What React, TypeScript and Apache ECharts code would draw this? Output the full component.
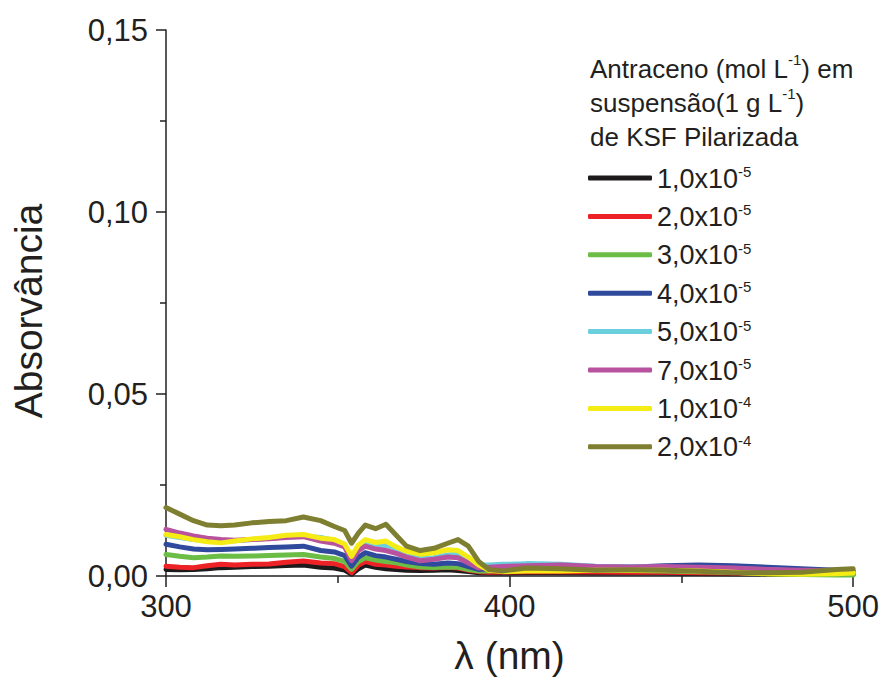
import React, { useEffect, useRef } from "react";
import * as echarts from "echarts";

// Wavelength grid (nm)
const wavelengths = [
  300, 304, 308, 312, 316, 320, 325, 330, 335, 340, 345, 349, 352, 354, 356, 358, 361, 364, 367, 370,
  374, 378, 382, 385, 388, 391, 394, 398, 405, 415, 425, 435, 445, 455, 465, 475, 485, 495, 500,
];

// Absorbance per anthracene concentration
const abs1e5 = [
  0.0018, 0.0017, 0.0018, 0.002, 0.0023, 0.0024, 0.0026, 0.0027, 0.0029, 0.003, 0.0024, 0.0022, 0.0016, 0.0005, 0.002, 0.003, 0.0024, 0.002, 0.0018, 0.0016,
  0.0015, 0.0016, 0.0017, 0.0015, 0.0012, 0.0009, 0.0008, 0.0008, 0.0009, 0.0009, 0.0008, 0.0008, 0.0008, 0.0007, 0.0006, 0.0006, 0.0005, 0.0005, 0.0005,
];
const abs2e5 = [
  0.0027, 0.0024, 0.0023, 0.0028, 0.0032, 0.003, 0.0032, 0.0033, 0.0038, 0.0041, 0.0036, 0.0034, 0.0026, 0.0009, 0.003, 0.004, 0.0032, 0.003, 0.0027, 0.0025,
  0.0023, 0.0022, 0.0024, 0.0022, 0.0016, 0.0012, 0.001, 0.0011, 0.0012, 0.0012, 0.0011, 0.001, 0.001, 0.0009, 0.0008, 0.0007, 0.0006, 0.0006, 0.0006,
];
const abs3e5 = [
  0.0059, 0.0054, 0.005, 0.0052, 0.0055, 0.0054, 0.0055, 0.0056, 0.0058, 0.0059, 0.0052, 0.0048, 0.004, 0.0018, 0.004, 0.005, 0.0044, 0.004, 0.0036, 0.003,
  0.0025, 0.0023, 0.0025, 0.0024, 0.0018, 0.0014, 0.0014, 0.0016, 0.0018, 0.0018, 0.0016, 0.0015, 0.0014, 0.0012, 0.001, 0.0006, 0.0004, 0.0003, 0.0003,
];
const abs4e5 = [
  0.0087, 0.008, 0.0074, 0.0072, 0.0073, 0.0074, 0.0076, 0.0078, 0.008, 0.0082, 0.007, 0.0066, 0.0056, 0.0027, 0.0052, 0.0064, 0.0056, 0.0052, 0.0046, 0.004,
  0.0034, 0.0032, 0.0036, 0.0034, 0.0026, 0.0018, 0.002, 0.0022, 0.0024, 0.0024, 0.0022, 0.0024, 0.0028, 0.003, 0.0028, 0.0024, 0.002, 0.0016, 0.0015,
];
const abs5e5 = [
  0.0112, 0.0106, 0.01, 0.0097, 0.0095, 0.0097, 0.01, 0.0104, 0.0108, 0.011, 0.0106, 0.0098, 0.0086, 0.0048, 0.0074, 0.0086, 0.008, 0.0084, 0.0076, 0.0062,
  0.0048, 0.005, 0.0058, 0.006, 0.0048, 0.003, 0.003, 0.0032, 0.0034, 0.0032, 0.0027, 0.0026, 0.0024, 0.0022, 0.002, 0.0017, 0.0014, 0.0012, 0.0012,
];
const abs7e5 = [
  0.0128, 0.0118, 0.011, 0.0104, 0.01, 0.0098, 0.01, 0.0102, 0.0106, 0.0108, 0.0096, 0.009, 0.008, 0.0042, 0.007, 0.0082, 0.0074, 0.007, 0.0062, 0.0052,
  0.0042, 0.0046, 0.0052, 0.005, 0.0036, 0.0022, 0.0024, 0.0026, 0.0028, 0.003, 0.0026, 0.0025, 0.0026, 0.0024, 0.0022, 0.0018, 0.0016, 0.0015, 0.0014,
];
const abs1e4 = [
  0.0114, 0.0108, 0.01, 0.0094, 0.0091, 0.0096, 0.0102, 0.0106, 0.0112, 0.0114, 0.0104, 0.01, 0.0088, 0.0054, 0.0085, 0.01, 0.0092, 0.0096, 0.008, 0.0068,
  0.006, 0.0064, 0.0072, 0.007, 0.0052, 0.003, 0.0016, 0.0012, 0.0014, 0.0014, 0.0016, 0.0016, 0.0016, 0.0014, 0.001, 0.0006, 0.0005, 0.0006, 0.0008,
];
const abs2e4 = [
  0.0188, 0.017, 0.0152, 0.014, 0.0138, 0.014, 0.0146, 0.015, 0.0152, 0.0162, 0.0152, 0.0136, 0.0125, 0.009, 0.0118, 0.014, 0.013, 0.0142, 0.0112, 0.0082,
  0.007, 0.0076, 0.009, 0.01, 0.0082, 0.004, 0.0018, 0.0014, 0.0022, 0.002, 0.0016, 0.0017, 0.0016, 0.0013, 0.0009, 0.0009, 0.001, 0.0018, 0.002,
];

const mantissas = ["1,0x10", "2,0x10", "3,0x10", "4,0x10", "5,0x10", "7,0x10", "1,0x10", "2,0x10"];
const exponents = ["-5", "-5", "-5", "-5", "-5", "-5", "-4", "-4"];
const seriesValues = [abs1e5, abs2e5, abs3e5, abs4e5, abs5e5, abs7e5, abs1e4, abs2e4];
const colors = ["#1c1a1b", "#ed2227", "#6cbd45", "#2f4a9c", "#6ccfde", "#b8519e", "#f5eb15", "#7f7f31"];

const FONT = "'Liberation Sans', Arial, sans-serif";
const INK = "#231f20";

export default function App() {
  const ref = useRef<HTMLDivElement>(null);

  useEffect(() => {
    if (!ref.current) return;
    const chart = echarts.init(ref.current, null, { renderer: "svg" });

    const series = seriesValues.map((vals, i) => ({
      name: `${mantissas[i]}^${exponents[i]}`,
      type: "line" as const,
      symbol: "none",
      data: wavelengths.map((w, k) => [w, vals[k]]),
      lineStyle: { color: colors[i], width: 5, join: "round", cap: "round" },
      itemStyle: { color: colors[i] },
      z: 2 + i,
    }));

    chart.setOption({
      animation: false,
      backgroundColor: "#ffffff",
      textStyle: { fontFamily: FONT },
      title: {
        left: 590,
        top: 52,
        padding: 0,
        text: "Antraceno (mol L{sup|-1}) em\nsuspensão(1 g L{sup|-1})\nde KSF Pilarizada",
        textStyle: {
          fontFamily: FONT,
          fontSize: 26,
          fontWeight: "normal",
          color: INK,
          lineHeight: 34,
          rich: {
            sup: { fontFamily: FONT, fontSize: 15, lineHeight: 12, verticalAlign: "top", color: INK },
          },
        },
      },
      legend: {
        orient: "vertical",
        left: 588,
        top: 164,
        padding: 0,
        itemWidth: 64,
        itemHeight: 5,
        itemGap: 10.4,
        icon: "roundRect",
        selectedMode: false,
        data: series.map((s) => s.name),
        formatter: (name: string) => {
          const [m, e] = name.split("^");
          return `{m|${m}}{e|${e}}`;
        },
        textStyle: {
          fontFamily: FONT,
          color: INK,
          rich: {
            m: { fontFamily: FONT, fontSize: 27, lineHeight: 28, color: INK, verticalAlign: "bottom" },
            e: { fontFamily: FONT, fontSize: 15, lineHeight: 12, color: INK, verticalAlign: "top" },
          },
        },
      },
      grid: { left: 166, right: 27, top: 30, bottom: 113, containLabel: false },
      xAxis: {
        type: "value",
        min: 300,
        max: 500,
        interval: 100,
        name: "λ (nm)",
        nameLocation: "middle",
        nameGap: 60,
        nameTextStyle: { fontFamily: FONT, fontSize: 39, color: INK },
        axisLine: { show: true, onZero: false, lineStyle: { color: INK, width: 1.5 } },
        axisTick: { show: true, inside: false, length: 11, lineStyle: { color: INK, width: 1.5 } },
        minorTick: { show: true, splitNumber: 2, length: 7, lineStyle: { color: INK, width: 1.5 } },
        axisLabel: { fontFamily: FONT, fontSize: 31, color: INK, margin: 15 },
        splitLine: { show: false },
      },
      yAxis: {
        type: "value",
        min: 0,
        max: 0.15,
        interval: 0.05,
        name: "Absorvância",
        nameLocation: "middle",
        nameGap: 118,
        nameRotate: 90,
        nameTextStyle: { fontFamily: FONT, fontSize: 39, color: INK, padding: [0, 16, 0, 0] },
        axisLine: { show: true, onZero: false, lineStyle: { color: INK, width: 1.5 } },
        axisTick: { show: true, inside: false, length: 10, lineStyle: { color: INK, width: 1.5 } },
        minorTick: { show: true, splitNumber: 2, length: 6, lineStyle: { color: INK, width: 1.5 } },
        axisLabel: {
          fontFamily: FONT,
          fontSize: 31,
          color: INK,
          margin: 18,
          formatter: (v: number) => v.toFixed(2).replace(".", ","),
        },
        splitLine: { show: false },
      },
      series,
    });

    return () => chart.dispose();
  }, []);

  return (
    <div
      ref={ref}
      style={{ position: "fixed", left: 0, top: 0, width: 882, height: 689, background: "#fff" }}
    />
  );
}
